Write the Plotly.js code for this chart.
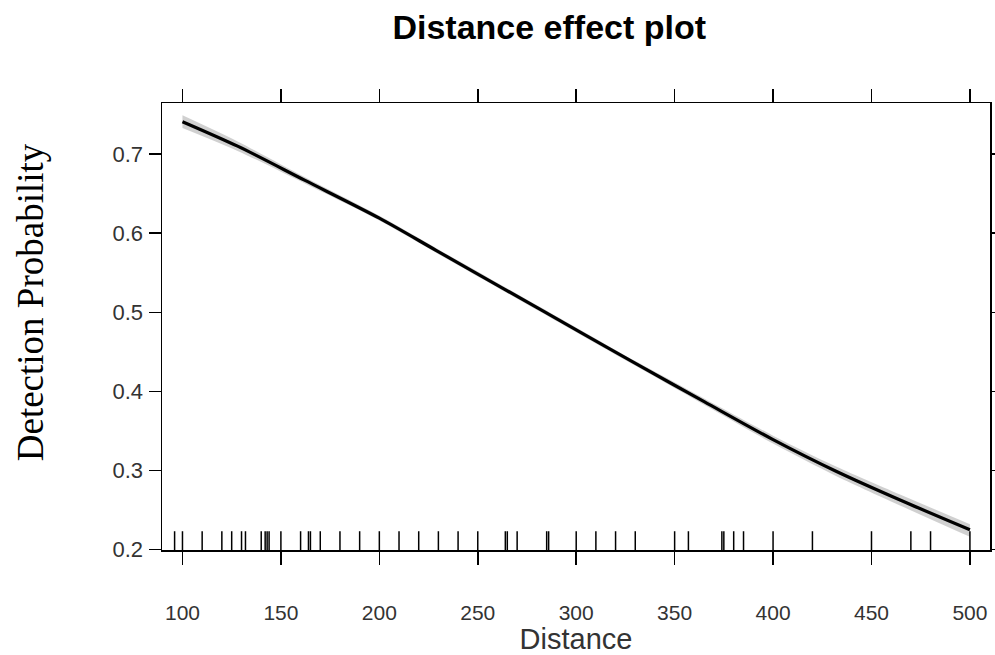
<!DOCTYPE html>
<html>
<head>
<meta charset="utf-8">
<script src="https://cdn.plot.ly/plotly-3.0.1.min.js"></script>
<style>
  html, body { margin: 0; padding: 0; background: #ffffff; }
  #chart { width: 995px; height: 655px; }
</style>
</head>
<body>
<div id="chart"></div>
<script>
// Fitted detection probability along distance
const distance = [100, 128, 162, 200, 229, 263, 302, 331, 365, 400, 432, 466, 500];
const probability = [0.741, 0.710, 0.667, 0.619, 0.578, 0.530, 0.475, 0.434, 0.387, 0.339, 0.299, 0.261, 0.225];
// Confidence band around the fitted curve
const bandUpper = [0.749, 0.716, 0.671, 0.622, 0.581, 0.533, 0.478, 0.437, 0.391, 0.344, 0.305, 0.268, 0.232];
const bandLower = [0.733, 0.704, 0.663, 0.616, 0.575, 0.527, 0.472, 0.431, 0.383, 0.334, 0.293, 0.254, 0.216];
// Observed distances, shown as a rug along the bottom
const observedDistances = [96, 100, 110, 120, 125, 130, 132, 140, 142, 143, 144, 150, 160, 164, 165, 170,
  180, 190, 200, 210, 220, 230, 240, 250, 264, 265, 270, 285, 286,
  300, 310, 320, 330, 350, 357, 374, 375, 380, 385, 400, 420, 450, 470, 480, 500];
const xTicks = [100, 150, 200, 250, 300, 350, 400, 450, 500];
const yTicks = [0.2, 0.3, 0.4, 0.5, 0.6, 0.7];

// Rug segments: each observation becomes a short vertical segment on an overlay axis [0, 1]
const rugX = [], rugY = [];
observedDistances.forEach(d => { rugX.push(d, d, null); rugY.push(0, 0.042, null); });

const traces = [
  { x: distance, y: bandLower, mode: 'lines', line: { width: 0, shape: 'spline', smoothing: 0.8 },
    hoverinfo: 'skip', showlegend: false },
  { x: distance, y: bandUpper, mode: 'lines', line: { width: 0, shape: 'spline', smoothing: 0.8 },
    fill: 'tonexty', fillcolor: 'rgba(200,200,200,0.85)', hoverinfo: 'skip', showlegend: false },
  { x: distance, y: probability, mode: 'lines', line: { color: '#000000', width: 3.2, shape: 'spline', smoothing: 0.8 },
    showlegend: false },
  { x: rugX, y: rugY, yaxis: 'y2', mode: 'lines', line: { color: '#000000', width: 1.5 },
    hoverinfo: 'skip', showlegend: false }
];

const sans = 'Liberation Sans, Arial, sans-serif';

const layout = {
  width: 995, height: 655,
  paper_bgcolor: '#ffffff', plot_bgcolor: '#ffffff',
  margin: { l: 162, r: 5, t: 103, b: 105 },
  title: {
    text: '<b>Distance effect plot</b>',
    font: { family: sans, size: 34, color: '#000000' },
    x: 0.552, xanchor: 'center', y: 1 - 27 / 655, yanchor: 'middle', yref: 'container'
  },
  xaxis: {
    range: [89.6, 510.2], tickvals: xTicks, ticktext: xTicks.map(String),
    ticks: 'outside', ticklen: 13, tickwidth: 1.5, tickcolor: '#000000',
    showline: true, linecolor: '#000000', linewidth: 1.5, mirror: 'allticks',
    showgrid: false, zeroline: false,
    tickfont: { family: sans, size: 21, color: '#333333' }, ticklabelstandoff: 30,
    title: { text: 'Distance', font: { family: sans, size: 29, color: '#333333' }, standoff: 2 }
  },
  yaxis: {
    range: [0.1994, 0.7646], tickvals: yTicks, ticktext: yTicks.map(v => v.toFixed(1)),
    ticks: 'outside', ticklen: 12, tickwidth: 1.5, tickcolor: '#000000',
    showline: true, linecolor: '#000000', linewidth: 1.5, mirror: 'allticks',
    showgrid: false, zeroline: false,
    tickfont: { family: sans, size: 22, color: '#333333' }, ticklabelstandoff: 1
  },
  yaxis2: {
    overlaying: 'y', range: [0, 1], visible: false, fixedrange: true
  },
  annotations: [{
    text: 'Detection Probability', textangle: -90,
    xref: 'paper', yref: 'paper', x: -162 / 828 + 30 / 828, y: (549.5 - 302) / 446.5,
    xanchor: 'center', yanchor: 'middle', showarrow: false,
    font: { family: 'Liberation Serif, Times New Roman, serif', size: 37, color: '#000000' }
  }],
  showlegend: false
};

Plotly.newPlot('chart', traces, layout, { displayModeBar: false, staticPlot: true });
</script>
</body>
</html>
